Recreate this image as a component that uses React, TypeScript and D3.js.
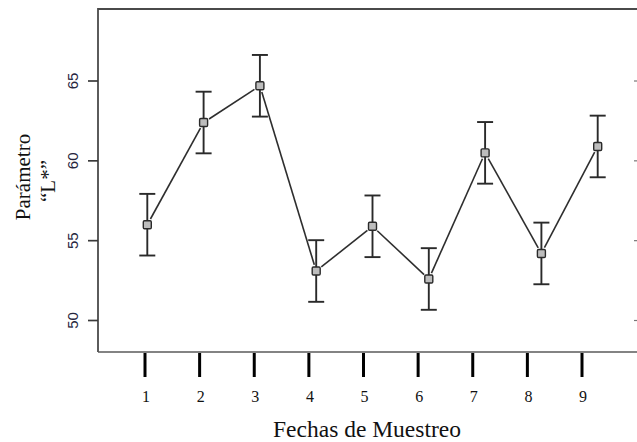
import React from "react";
import * as d3 from "d3";

const dates = [1, 2, 3, 4, 5, 6, 7, 8, 9];
const means = [56.0, 62.4, 64.7, 53.1, 55.9, 52.6, 60.5, 54.2, 60.9];
const errs = [1.93, 1.93, 1.93, 1.93, 1.93, 1.93, 1.93, 1.93, 1.93];
const yTicks = [50, 55, 60, 65];
const xTickLabels = ["1", "2", "3", "4", "5", "6", "7", "8", "9"];

const W = 637;
const H = 442;
const frameLeft = 98;
const frameTop = 9;
const frameBottom = 352;

export default function App() {
  const x = d3.scaleLinear().domain([1, 9]).range([147.3, 597.7]);
  const xAxis = d3.scaleLinear().domain([1, 9]).range([145, 582]);
  const y = d3.scaleLinear().domain([50, 65]).range([320.5, 81]);

  const pts = dates.map((d, i) => ({ px: x(d), py: y(means[i]), lo: y(means[i] - errs[i]), hi: y(means[i] + errs[i]) }));
  const gap = 6.5;
  const segs = pts.slice(1).map((p, i) => {
    const a = pts[i];
    const dx = p.px - a.px;
    const dy = p.py - a.py;
    const len = Math.hypot(dx, dy);
    const ux = dx / len;
    const uy = dy / len;
    return { x1: a.px + ux * gap, y1: a.py + uy * gap, x2: p.px - ux * gap, y2: p.py - uy * gap };
  });

  return (
    <div style={{ position: "fixed", left: 0, top: 0 }}>
      <svg width={W} height={H} style={{ display: "block", background: "#fff" }}>
        {/* frame */}
        <line x1={frameLeft} y1={frameTop} x2={W} y2={frameTop} stroke="#4a4a4a" strokeWidth={2.2} />
        <line x1={frameLeft} y1={frameTop - 1} x2={frameLeft} y2={frameBottom} stroke="#4a4a4a" strokeWidth={1.8} />
        <line x1={frameLeft} y1={frameBottom} x2={W} y2={frameBottom} stroke="#5a5a5a" strokeWidth={1.5} />

        {/* y ticks and labels */}
        {yTicks.map((t) => (
          <g key={t}>
            <line x1={88} x2={frameLeft} y1={y(t)} y2={y(t)} stroke="#3a3a3a" strokeWidth={1.7} />
            <line x1={634} x2={W} y1={y(t)} y2={y(t)} stroke="#777" strokeWidth={1.2} />
            <text
              transform={`translate(77.5,${y(t)}) rotate(-90)`}
              textAnchor="middle"
              fontFamily="Liberation Sans, Arial, sans-serif"
              fontSize={15}
              fill="#26263e"
            >
              {t}
            </text>
          </g>
        ))}

        {/* x ticks and labels */}
        {dates.map((d, i) => (
          <g key={d}>
            <line x1={xAxis(d)} x2={xAxis(d)} y1={353} y2={377} stroke="#000" strokeWidth={3} />
            <text x={xAxis(d) + 1} y={401.5} textAnchor="middle" fontFamily="Liberation Serif, Times New Roman, serif" fontSize={16} fill="#111">
              {xTickLabels[i]}
            </text>
          </g>
        ))}

        {/* connecting line segments */}
        {segs.map((s, i) => (
          <line key={i} x1={s.x1} y1={s.y1} x2={s.x2} y2={s.y2} stroke="#2e2e2e" strokeWidth={1.6} />
        ))}

        {/* error bars */}
        {pts.map((p, i) => (
          <g key={i} stroke="#2a2a2a" strokeWidth={1.9}>
            <line x1={p.px} x2={p.px} y1={p.lo} y2={p.hi} />
            <line x1={p.px - 8} x2={p.px + 8} y1={p.lo} y2={p.lo} />
            <line x1={p.px - 8} x2={p.px + 8} y1={p.hi} y2={p.hi} />
            <rect x={p.px - 4} y={p.py - 4} width={8} height={8} rx={1.2} fill="#bdbdbd" strokeWidth={1.4} />
          </g>
        ))}

        {/* axis titles */}
        <text
          transform="translate(30,177) rotate(-90)"
          textAnchor="middle"
          fontFamily="Liberation Serif, Times New Roman, serif"
          fontSize={21}
          fill="#111"
        >
          Parámetro
        </text>
        <text
          transform="translate(55,181) rotate(-90)"
          textAnchor="middle"
          fontFamily="Liberation Serif, Times New Roman, serif"
          fontSize={21}
          fill="#111"
        >
          “L*”
        </text>
        <text x={367} y={437} textAnchor="middle" fontFamily="Liberation Serif, Times New Roman, serif" fontSize={23.5} fill="#111">
          Fechas de Muestreo
        </text>
      </svg>
    </div>
  );
}
